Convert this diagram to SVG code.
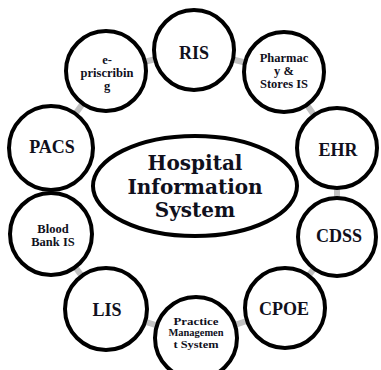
<svg xmlns="http://www.w3.org/2000/svg" width="381" height="370" viewBox="0 0 381 370">
<style>
.n{fill:#fff;stroke:#000;stroke-width:4}
.c{stroke:#c2c2c2;stroke-width:6;fill:none}
text{font-family:"Liberation Serif","Times New Roman",serif;font-weight:bold;fill:#10101c;text-anchor:middle}
.b{font-size:18px}
.s{font-size:12.5px}
.p{font-size:10.5px}
.h{font-family:"DejaVu Serif","Liberation Serif",serif;font-size:20px}
</style>
<rect width="381" height="370" fill="#fff"/>
<g id="connectors">
<polyline class="c" points="194,50 284,72 337,148 337,237 285,308 196,338 106,309 51,234 51,148 106,71 194,50"/>
</g>
<g id="his"><ellipse class="n" cx="195" cy="186" rx="102" ry="50"/>
<text class="h" x="195" y="170">Hospital</text><text class="h" x="195" y="193.5">Information</text><text class="h" x="195" y="217">System</text></g>
<g id="ris"><circle class="n" cx="194" cy="50" r="40"/><text class="b" x="194" y="59">RIS</text></g>
<g id="pharmacy"><circle class="n" cx="284" cy="72" r="40"/><text class="s" x="284" y="62">Pharmac</text><text class="s" x="284" y="75">y &amp;</text><text class="s" x="284" y="88">Stores IS</text></g>
<g id="ehr"><circle class="n" cx="337" cy="148" r="40"/><text class="b" x="338" y="156">EHR</text></g>
<g id="cdss"><circle class="n" cx="337" cy="237" r="39"/><text class="b" x="339" y="242">CDSS</text></g>
<g id="cpoe"><circle class="n" cx="285" cy="308" r="40"/><text class="b" x="284" y="315">CPOE</text></g>
<g id="practice"><circle class="n" cx="196" cy="338" r="41"/><text class="p" x="196" y="324.5" textLength="45" lengthAdjust="spacingAndGlyphs">Practice</text><text class="p" x="196" y="336.2" textLength="55" lengthAdjust="spacingAndGlyphs" style="font-size:10px">Managemen</text><text class="p" x="196" y="348" textLength="45" lengthAdjust="spacingAndGlyphs">t System</text></g>
<g id="lis"><circle class="n" cx="106" cy="309" r="41"/><text class="b" x="107" y="316">LIS</text></g>
<g id="bloodbank"><circle class="n" cx="51" cy="234" r="41"/><text class="s" x="53" y="233">Blood</text><text class="s" x="53" y="246">Bank IS</text></g>
<g id="pacs"><circle class="n" cx="51" cy="148" r="42"/><text class="b" x="52" y="153">PACS</text></g>
<g id="eprescribing"><circle class="n" cx="106" cy="71" r="40"/><text class="s" x="107" y="64">e-</text><text class="s" x="107" y="77">priscribin</text><text class="s" x="107" y="90">g</text></g>
</svg>
